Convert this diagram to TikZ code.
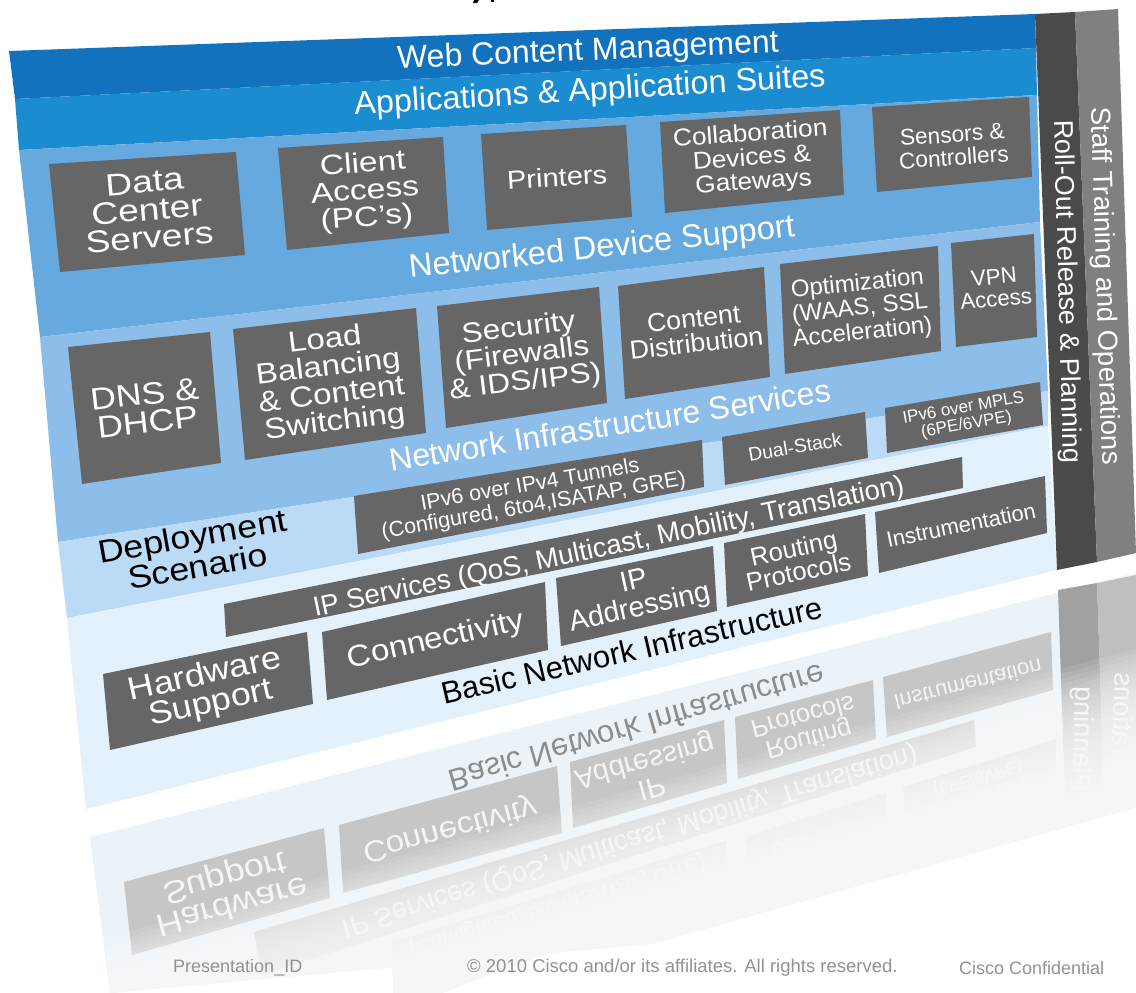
\documentclass[tikz,border=0pt]{standalone}
\usepackage{fontspec}
\setmainfont{Liberation Sans}
\usepackage{xcolor}
\definecolor{webblue}{HTML}{1272BE}
\definecolor{appblue}{HTML}{1A8CCF}
\definecolor{devblue}{HTML}{65A9DF}
\definecolor{infblue}{HTML}{8DBDE9}
\definecolor{depblue}{HTML}{BBDAF5}
\definecolor{palblue}{HTML}{E3F1FC}
\definecolor{boxgray}{HTML}{666666}
\definecolor{barone}{HTML}{4A4A4A}
\definecolor{bartwo}{HTML}{808080}
\definecolor{rboxgray}{HTML}{C6C6C6}
\definecolor{rpale}{HTML}{EBF2F8}
\definecolor{footgray}{HTML}{929296}
\newcommand{\fs}[2]{\fontsize{#1}{#2}\selectfont}
\tikzset{
  lbl/.style={inner sep=0pt,align=center,transform shape},
  boxlbl/.style={lbl,text=white},
  darklbl/.style={lbl,text=black},
  rlbl/.style={lbl,yscale=-1,text=white!92!gray},
  rdark/.style={lbl,yscale=-1,text=black!45},
  foot/.style={inner sep=0pt,text=footgray,font=\fs{18}{20}},
  tile/.style={fill=boxgray},
  rtile/.style={fill=rboxgray}
}
\begin{document}
\begin{tikzpicture}[x=1pt,y=-1pt]
  \useasboundingbox (0,0) rectangle (1136,993);
  \clip (0,0) rectangle (1136,993);
  \fill[white] (0,0) rectangle (1136,993);
  % cut title
  \fill[black] (474,0) -- (479,0) -- (477,3) -- (473,3) -- cycle;
  \fill[black] (491,0) rectangle (494,2);

  % reflection
  \fill[rpale] (90,837) -- (1136,573) -- (1136,900) -- (110,993) -- cycle;
  \fill[black!37] (1058,590) -- (1097,583) -- (1107,880) -- (1068,890) -- cycle;
  \fill[black!25] (1097,583) -- (1136,575) -- (1136,880) -- (1107,880) -- cycle;
  \fill[rtile] (124,882) -- (324,828) -- (330,898) -- (132,955) -- cycle;
  \fill[rtile] (339,825) -- (557,766) -- (562,833) -- (343,893) -- cycle;
  \fill[rtile] (570,762) -- (724,720) -- (727,783) -- (573,828) -- cycle;
  \fill[rtile] (735,717) -- (873,680) -- (876,739) -- (738,779) -- cycle;
  \fill[rtile] (883,677) -- (1051,632) -- (1053,690) -- (887,737) -- cycle;
  \fill[rtile] (254,932) -- (974,720) -- (976,747) -- (262,975) -- cycle;
  \fill[rtile] (391,942) -- (727,840) -- (728,887) -- (395,1010) -- cycle;
  \fill[rtile] (746,837) -- (886,792) -- (888,837) -- (748,878) -- cycle;
  \fill[rtile] (903,787) -- (1056,739) -- (1057,783) -- (905,828) -- cycle;
  \node[rotate=16,rdark,font=\fs{31}{31}] (rbasic) at (637,728) {Basic Network Infrastructure};
  \node[rotate=15,rlbl,xscale=1.12,font=\fs{32}{29}] (rhard) at (228,890) {Hardware\\Support};
  \node[rotate=15,rlbl,xscale=1.1,font=\fs{30}{30}] (rconn) at (450,829) {Connectivity};
  \node[rotate=15,rlbl,font=\fs{28.7}{27}] (raddr) at (648,773) {IP\\Addressing};
  \node[rotate=14.5,rlbl,font=\fs{25.5}{24}] (rrout) at (806,729) {Routing\\Protocols};
  \node[rotate=14,rlbl,font=\fs{22}{22}] (rinst) at (968,685) {Instrumentation};
  \node[rotate=17,rlbl,font=\fs{27.5}{27}] (rserv) at (630,840) {IP Services (QoS, Multicast, Mobility, Translation)};
  \node[rotate=16.5,rlbl,font=\fs{21.5}{21}] (rtunn) at (560,915) {IPv6 over IPv4 Tunnels\\(Configured, 6to4,ISATAP, GRE)};
  \node[rotate=16,rlbl,font=\fs{19.3}{19}] (rdual) at (817,838) {Dual-Stack};
  \node[rotate=16,rlbl,font=\fs{17}{17}] (rmpls) at (980,785) {IPv6 over MPLS\\(6PE/6VPE)};
  \node[rotate=88.5,rlbl,font=\fs{27}{27}] (rroll) at (1081,739) {Planning};
  \node[rotate=88.2,rlbl,font=\fs{27.5}{27}] (rstaff) at (1120,740) {Operations};
  % fade of the reflection
  \foreach \t in {-80,-75,...,70}
    \fill[white,opacity=.1] (0,1048+\t) -- (1136,728+\t) -- (1136,1100) -- (0,1100) -- cycle;
  \fill[white] (0,1128) -- (1136,808) -- (1136,1100) -- (0,1100) -- cycle;

  % panel
  \fill[webblue] (9,51) -- (1035,14) -- (1036,48) -- (15,99) -- cycle;
  \fill[appblue] (15,99) -- (1036,48) -- (1037,95) -- (19,150) -- cycle;
  \fill[devblue] (19,150) -- (1037,95) -- (1040,222) -- (40,337) -- cycle;
  \fill[infblue] (40,337) -- (1040,222) -- (1048,391) -- (58,542) -- cycle;
  \fill[depblue] (58,542) -- (1048,391) -- (1048,426) -- (67,618) -- cycle;
  \fill[palblue] (67,618) -- (1048,426) -- (1057,570) -- (86,809) -- cycle;
  \fill[barone] (1035,14) -- (1075,12) -- (1097,562) -- (1057,570) -- cycle;
  \fill[bartwo] (1075,12) -- (1118,9) -- (1136,553) -- (1097,562) -- cycle;
  \node[boxlbl,rotate=-88.5,font=\fs{27}{27}] (roll) at (1066,292) {Roll-Out Release \& Planning};
  \node[boxlbl,rotate=-88.2,font=\fs{27.5}{27}] (staff) at (1104,286) {Staff Training and Operations};

  % band titles
  \node[boxlbl,rotate=2.5,font=\fs{32}{32}] (web) at (588,52) {Web Content Management};
  \node[boxlbl,rotate=3.4,font=\fs{32.4}{32}] (apps) at (590,92) {Applications \& Application Suites};
  \node[boxlbl,rotate=6.1,font=\fs{32.6}{32}] (netdev) at (602,249) {Networked Device Support};
  \node[boxlbl,rotate=9.1,font=\fs{32}{32}] (netinf) at (610,425) {Network Infrastructure Services};
  \node[darklbl,rotate=12.9,font=\fs{31}{31}] (basic) at (632,650) {Basic Network Infrastructure};
  \node[darklbl,rotate=10,xscale=1.12,font=\fs{32}{27}] (depl) at (195,551) {Deployment\\Scenario};

  % first row
  \fill[tile] (49,164) -- (236,152) -- (245,255) -- (60,272) -- cycle;
  \fill[tile] (278,148) -- (443,137) -- (449,233) -- (287,250) -- cycle;
  \fill[tile] (481,134) -- (626,125) -- (632,217) -- (487,230) -- cycle;
  \fill[tile] (660,122) -- (840,110) -- (844,195) -- (665,213) -- cycle;
  \fill[tile] (872,107) -- (1029,97) -- (1032,177) -- (877,192) -- cycle;
  \node[boxlbl,rotate=5,xscale=1.2,font=\fs{31}{28}] (data) at (147,210) {Data\\Center\\Servers};
  \node[boxlbl,rotate=4.5,xscale=1.2,font=\fs{28}{27}] (client) at (365,192) {Client\\Access\\(PC’s)};
  \node[boxlbl,rotate=3.5,xscale=1.12,font=\fs{26}{26}] (print) at (557,177) {Printers};
  \node[boxlbl,rotate=4,xscale=1.08,font=\fs{24.3}{24}] (collab) at (752,159) {Collaboration\\Devices \&\\Gateways};
  \node[boxlbl,rotate=4,font=\fs{22.7}{23}] (sens) at (953,146) {Sensors \&\\Controllers};

  % second row
  \fill[tile] (68,347) -- (210,332) -- (221,463) -- (82,484) -- cycle;
  \fill[tile] (233,329) -- (416,308) -- (426,433) -- (245,460) -- cycle;
  \fill[tile] (437,306) -- (599,287) -- (607,403) -- (446,428) -- cycle;
  \fill[tile] (618,286) -- (764,267) -- (770,377) -- (625,399) -- cycle;
  \fill[tile] (780,264) -- (938,246) -- (941,351) -- (785,374) -- cycle;
  \fill[tile] (951,243) -- (1034,234) -- (1037,337) -- (956,347) -- cycle;
  \node[boxlbl,rotate=6.5,xscale=1.15,font=\fs{31}{28}] (dns) at (146,408) {DNS \&\\DHCP};
  \node[boxlbl,rotate=7,xscale=1.14,font=\fs{29}{27.5}] (load) at (330,382) {Load\\Balancing\\\& Content\\Switching};
  \node[boxlbl,rotate=7,xscale=1.13,font=\fs{28}{26}] (secu) at (522,356) {Security\\(Firewalls\\\& IDS/IPS)};
  \node[boxlbl,rotate=6.5,xscale=1.03,font=\fs{26}{25}] (cont) at (695,331) {Content\\Distribution};
  \node[boxlbl,rotate=6,font=\fs{24}{24.5}] (opti) at (860,309) {Optimization\\(WAAS, SSL\\Acceleration)};
  \node[boxlbl,rotate=5.5,font=\fs{22.3}{22}] (vpn) at (995,288) {VPN\\Access};

  % third row
  \fill[tile] (354,496) -- (702,440) -- (704,487) -- (358,554) -- cycle;
  \fill[tile] (722,437) -- (865,412) -- (868,458) -- (725,485) -- cycle;
  \fill[tile] (885,408) -- (1040,382) -- (1043,425) -- (887,453) -- cycle;
  \fill[tile] (224,604) -- (962,457) -- (963,488) -- (226,637) -- cycle;
  \node[boxlbl,rotate=10,font=\fs{21.5}{21}] (tunn) at (532,496) {IPv6 over IPv4 Tunnels\\(Configured, 6to4,ISATAP, GRE)};
  \node[boxlbl,rotate=9.5,font=\fs{19.3}{19}] (dual) at (795,447) {Dual-Stack};
  \node[boxlbl,rotate=10,font=\fs{17}{17}] (mpls) at (965,417) {IPv6 over MPLS\\(6PE/6VPE)};
  \node[boxlbl,rotate=11.8,font=\fs{27.6}{27}] (serv) at (609,548) {IP Services (QoS, Multicast, Mobility, Translation)};

  % fourth row
  \fill[tile] (103,674) -- (307,632) -- (313,704) -- (110,750) -- cycle;
  \fill[tile] (322,632) -- (545,582) -- (548,650) -- (327,700) -- cycle;
  \fill[tile] (556,578) -- (713,546) -- (717,611) -- (561,646) -- cycle;
  \fill[tile] (724,543) -- (865,514) -- (868,576) -- (727,607) -- cycle;
  \fill[tile] (875,512) -- (1045,476) -- (1047,533) -- (879,573) -- cycle;
  \node[boxlbl,rotate=12.5,xscale=1.12,font=\fs{32}{29}] (hard) at (208,690) {Hardware\\Support};
  \node[boxlbl,rotate=12.5,xscale=1.1,font=\fs{30}{30}] (conn) at (436,641) {Connectivity};
  \node[boxlbl,rotate=12.5,font=\fs{28.7}{27}] (addr) at (637,596) {IP\\Addressing};
  \node[boxlbl,rotate=12,font=\fs{25.5}{24}] (rout) at (796,560) {Routing\\Protocols};
  \node[boxlbl,rotate=11.5,font=\fs{22}{22}] (inst) at (961,525) {Instrumentation};

  % footer
  \node[foot,anchor=west] (pres) at (173,968) {Presentation\_ID};
  \node[foot,anchor=west,font=\fs{18.5}{20}] (copy) at (467,968) {© 2010 Cisco and/or its affiliates. All rights reserved.};
  \node[foot,anchor=west] (conf) at (959,968) {Cisco Confidential};
\end{tikzpicture}
\end{document}
